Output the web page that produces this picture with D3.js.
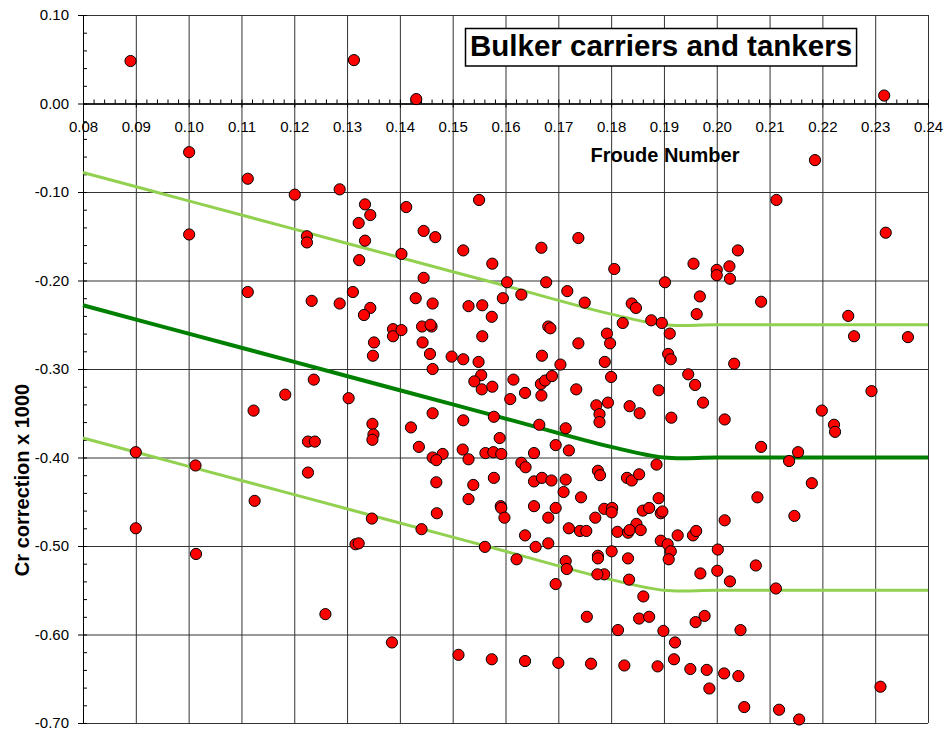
<!DOCTYPE html>
<html>
<head>
<meta charset="utf-8">
<script src="https://cdn.jsdelivr.net/npm/d3@7"></script>
<style>
body { margin: 0; background: #fff; }
svg { display: block; font-family: Arial, "Liberation Sans", sans-serif; }
.grid line { stroke: #333; }
.grid path { display: none; }
</style>
</head>
<body>
<script>
// scatter points, Froude number vs Cr correction x 1000
var froude = [
  0.0890, 0.1313, 0.1431, 0.2317, 0.1001, 0.1112, 0.2186, 0.1201, 0.1001, 0.1224,
  0.1224, 0.1112, 0.1233, 0.1237, 0.1183, 0.1123, 0.1226, 0.1239, 0.0900, 0.1013,
  0.1226, 0.1125, 0.0900, 0.1014, 0.1286, 0.1550, 0.1334, 0.1412, 0.1344, 0.1322,
  0.1445, 0.1467, 0.1334, 0.1520, 0.1668, 0.1738, 0.1403, 0.1323, 0.1575, 0.1806,
  0.1445, 0.1603, 0.1677, 0.1311, 0.1286, 0.1717, 0.1630, 0.1595, 0.1430, 0.1462,
  0.1344, 0.1332, 0.1530, 0.1556, 0.1574, 0.1750, 0.1822, 0.1681, 0.1685, 0.1387,
  0.1387, 0.1403, 0.1442, 0.1460, 0.1458, 0.1556, 0.1792, 0.1798, 0.1738, 0.1351,
  0.1349, 0.1443, 0.1457, 0.1498, 0.1520, 0.1549, 0.1669, 0.1704, 0.1788, 0.1462,
  0.1554, 0.1541, 0.1555, 0.1575, 0.1615, 0.1637, 0.1609, 0.1667, 0.1675, 0.1688,
  0.1668, 0.1734, 0.1800, 0.1303, 0.1772, 0.1794, 0.1778, 0.1778, 0.1462, 0.1520,
  0.1578, 0.1664, 0.1714, 0.1348, 0.1350, 0.1348, 0.1421, 0.1589, 0.1695, 0.1720,
  0.1436, 0.1519, 0.1562, 0.1577, 0.1592, 0.1654, 0.1481, 0.1462, 0.1469, 0.1530,
  0.1630, 0.1638, 0.1469, 0.1539, 0.1578, 0.1654, 0.1669, 0.1687, 0.1714, 0.1710,
  0.1743, 0.1775, 0.1779, 0.1530, 0.1591, 0.1592, 0.1598, 0.1654, 0.1695, 0.1681,
  0.1470, 0.1347, 0.1441, 0.1637, 0.1720, 0.1741, 0.1753, 0.1770, 0.1787, 0.1802,
  0.1801, 0.1812, 0.1832, 0.1834, 0.1316, 0.1322, 0.1561, 0.1657, 0.1681, 0.1621,
  0.1714, 0.1716, 0.1775, 0.1775, 0.1787, 0.1774, 0.1801, 0.1695, 0.1259, 0.1754,
  0.1813, 0.1385, 0.1511, 0.1574, 0.1637, 0.1700, 0.1762, 0.1825, 0.2113, 0.2320,
  0.2040, 0.1956, 0.2024, 0.2000, 0.2000, 0.2025, 0.1902, 0.1968, 0.2084, 0.1839,
  0.1847, 0.1962, 0.1876, 0.1896, 0.1911, 0.2249, 0.2260, 0.2362, 0.1908, 0.1913,
  0.2033, 0.1946, 0.1959, 0.1890, 0.1974, 0.1835, 0.1854, 0.1914, 0.2015, 0.2293,
  0.2199, 0.2222, 0.2224, 0.2084, 0.2154, 0.2137, 0.2180, 0.2077, 0.2147, 0.2015,
  0.1886, 0.1830, 0.1839, 0.1853, 0.1890, 0.1860, 0.1872, 0.1894, 0.1897, 0.1848,
  0.1832, 0.1835, 0.1856, 0.1926, 0.1955, 0.1961, 0.1894, 0.1907, 0.1913, 0.1909,
  0.2002, 0.1969, 0.2001, 0.2025, 0.2074, 0.2112, 0.1861, 0.1853, 0.1872, 0.1960,
  0.1977, 0.1899, 0.2045, 0.1921, 0.1919, 0.1888, 0.1950, 0.1981, 0.2014, 0.2041,
  0.1986, 0.2052, 0.2118, 0.2156, 0.2310
];
var crCorr = [
   0.048,  0.049,  0.005,  0.009, -0.055, -0.085, -0.064, -0.103, -0.148, -0.150,
  -0.157, -0.213, -0.223, -0.312, -0.329, -0.347, -0.382, -0.382, -0.394, -0.409,
  -0.417, -0.449, -0.480, -0.509, -0.097, -0.109, -0.114, -0.117, -0.126, -0.135,
  -0.144, -0.151, -0.155, -0.166, -0.163, -0.152, -0.170, -0.177, -0.181, -0.187,
  -0.197, -0.202, -0.202, -0.213, -0.226, -0.212, -0.216, -0.220, -0.220, -0.226,
  -0.231, -0.239, -0.229, -0.228, -0.241, -0.225, -0.248, -0.252, -0.254, -0.255,
  -0.263, -0.256, -0.252, -0.252, -0.250, -0.263, -0.260, -0.271, -0.271, -0.270,
  -0.285, -0.270, -0.283, -0.286, -0.289, -0.292, -0.285, -0.295, -0.292, -0.300,
  -0.307, -0.314, -0.323, -0.320, -0.312, -0.327, -0.334, -0.317, -0.313, -0.308,
  -0.330, -0.323, -0.309, -0.333, -0.341, -0.338, -0.351, -0.360, -0.350, -0.358,
  -0.354, -0.363, -0.367, -0.362, -0.374, -0.380, -0.366, -0.378, -0.386, -0.392,
  -0.388, -0.391, -0.395, -0.394, -0.396, -0.395, -0.396, -0.400, -0.403, -0.402,
  -0.406, -0.411, -0.428, -0.431, -0.423, -0.427, -0.423, -0.426, -0.425, -0.439,
  -0.445, -0.415, -0.420, -0.447, -0.455, -0.457, -0.468, -0.455, -0.457, -0.468,
  -0.463, -0.469, -0.481, -0.488, -0.480, -0.483, -0.483, -0.468, -0.458, -0.457,
  -0.462, -0.484, -0.514, -0.538, -0.498, -0.497, -0.501, -0.501, -0.497, -0.515,
  -0.517, -0.526, -0.511, -0.514, -0.532, -0.532, -0.506, -0.543, -0.577, -0.580,
  -0.595, -0.609, -0.623, -0.628, -0.630, -0.632, -0.633, -0.635, -0.109, -0.146,
  -0.166, -0.181, -0.184, -0.188, -0.194, -0.198, -0.202, -0.218, -0.224, -0.226,
  -0.231, -0.238, -0.245, -0.248, -0.260, -0.240, -0.263, -0.264, -0.283, -0.289,
  -0.294, -0.306, -0.318, -0.324, -0.338, -0.342, -0.350, -0.355, -0.357, -0.325,
  -0.347, -0.363, -0.371, -0.388, -0.394, -0.404, -0.429, -0.445, -0.466, -0.471,
  -0.408, -0.423, -0.426, -0.419, -0.446, -0.460, -0.457, -0.463, -0.461, -0.475,
  -0.485, -0.482, -0.482, -0.488, -0.488, -0.483, -0.494, -0.498, -0.506, -0.515,
  -0.504, -0.531, -0.528, -0.540, -0.522, -0.548, -0.557, -0.582, -0.580, -0.586,
  -0.579, -0.596, -0.595, -0.609, -0.628, -0.636, -0.639, -0.640, -0.644, -0.647,
  -0.661, -0.682, -0.685, -0.696, -0.659
];

// guide lines (mean and +/- band)
var lineFn    = [0.08, 0.10, 0.12, 0.14, 0.16, 0.18, 0.19, 0.20, 0.22, 0.24];
var lineMid   = [-0.228, -0.260, -0.292, -0.324, -0.356, -0.388, -0.400, -0.400, -0.400, -0.400];
var lineUpper = [-0.078, -0.110, -0.142, -0.174, -0.206, -0.238, -0.250, -0.250, -0.250, -0.250];
var lineLower = [-0.378, -0.410, -0.442, -0.474, -0.506, -0.538, -0.550, -0.550, -0.550, -0.550];

var xTicks = [0.08, 0.09, 0.10, 0.11, 0.12, 0.13, 0.14, 0.15, 0.16,
              0.17, 0.18, 0.19, 0.20, 0.21, 0.22, 0.23, 0.24];
var yTicks = [0.10, 0.00, -0.10, -0.20, -0.30, -0.40, -0.50, -0.60, -0.70];

var margin = {top: 15, right: 18, bottom: 8, left: 83},
    width = 946 - margin.left - margin.right,
    height = 731 - margin.top - margin.bottom;

var x = d3.scaleLinear().domain([0.08, 0.24]).range([0, width]);
var y = d3.scaleLinear().domain([-0.70, 0.10]).range([height, 0]);

var svg = d3.select("body").append("svg")
    .attr("width", width + margin.left + margin.right)
    .attr("height", height + margin.top + margin.bottom)
  .append("g")
    .attr("transform", "translate(" + margin.left + "," + margin.top + ")");

var fmt = function(d) { return d.toFixed(2); };

// vertical grid
svg.append("g")
    .attr("class", "grid")
    .attr("transform", "translate(0," + height + ")")
    .call(d3.axisBottom(x).tickValues(xTicks).tickSize(-height).tickFormat(""));

// horizontal grid
svg.append("g")
    .attr("class", "grid")
    .call(d3.axisLeft(y).tickValues(yTicks).tickSize(-width).tickFormat(""));

// y axis with labels
var yAxis = svg.append("g")
    .call(d3.axisLeft(y).tickValues(yTicks).tickSize(5).tickPadding(9).tickFormat(fmt));
yAxis.selectAll("text").style("font-size", "15px").attr("fill", "#000");
yAxis.select(".domain").attr("stroke", "#000");

// y minor ticks
svg.append("g")
    .call(d3.axisRight(y).tickValues(d3.range(-0.70, 0.1001, 0.02)).tickSize(4).tickFormat(""))
    .select(".domain").remove();

// x axis on the zero line
var xAxis = svg.append("g")
    .attr("transform", "translate(0," + y(0) + ")")
    .call(d3.axisBottom(x).tickValues(xTicks).tickSize(4).tickPadding(14).tickFormat(fmt));
xAxis.selectAll("text").style("font-size", "15px").attr("fill", "#000");

svg.append("g")
    .attr("transform", "translate(0," + y(0) + ")")
    .call(d3.axisTop(x).tickValues(d3.range(0.08, 0.2401, 0.002)).tickSize(4).tickFormat(""));

// guide lines
var idx = d3.range(lineFn.length);
function guide(vals) {
  return d3.line()
    .x(function(i) { return x(lineFn[i]); })
    .y(function(i) { return y(vals[i]); })
    .curve(d3.curveCatmullRom)(idx);
}
[lineUpper, lineLower].forEach(function(vals) {
  svg.append("path")
    .attr("d", guide(vals))
    .attr("fill", "none")
    .attr("stroke", "#92D050")
    .attr("stroke-width", 3);
});
svg.append("path")
    .attr("d", guide(lineMid))
    .attr("fill", "none")
    .attr("stroke", "#008000")
    .attr("stroke-width", 4);

// points
svg.selectAll(".dot")
    .data(d3.range(froude.length))
  .enter().append("circle")
    .attr("class", "dot")
    .attr("cx", function(i) { return x(froude[i]); })
    .attr("cy", function(i) { return y(crCorr[i]); })
    .attr("r", 5.6)
    .attr("fill", "#FF0000")
    .attr("stroke", "#000")
    .attr("stroke-width", 1);

// axis titles
svg.append("text")
    .attr("x", 582)
    .attr("y", 147)
    .attr("text-anchor", "middle")
    .style("font-size", "20px")
    .style("font-weight", "bold")
    .text("Froude Number");

svg.append("text")
    .attr("transform", "translate(" + (29 - margin.left) + ",465) rotate(-90)")
    .attr("text-anchor", "middle")
    .style("font-size", "20px")
    .style("font-weight", "bold")
    .text("Cr correction x 1000");

// title box
var title = svg.append("g");
var tt = title.append("text")
    .attr("x", 387)
    .attr("y", 41)
    .style("font-size", "29.5px")
    .style("font-weight", "bold")
    .text("Bulker carriers and tankers");
var bb = tt.node().getBBox();
title.insert("rect", "text")
    .attr("x", bb.x - 4.5)
    .attr("y", 13.5)
    .attr("width", bb.width + 9)
    .attr("height", 37.5)
    .attr("fill", "#fff")
    .attr("stroke", "#000")
    .attr("stroke-width", 1.5);
</script>
</body>
</html>
